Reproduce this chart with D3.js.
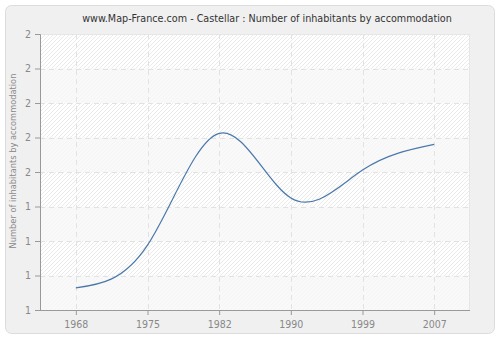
<!DOCTYPE html>
<html><head><meta charset="utf-8">
<script src="https://cdn.jsdelivr.net/npm/d3@7"></script>
<style>body{margin:0;background:#fff}svg{display:block}</style>
</head><body>
<script>
const years = ["1968","1975","1982","1990","1999","2007"];
const values = [1.08, 1.235, 1.64, 1.406, 1.507, 1.60];
const yTicks = [1, 1.125, 1.25, 1.375, 1.5, 1.625, 1.75, 1.875, 2];
const title = "www.Map-France.com - Castellar : Number of inhabitants by accommodation";
const yLabel = "Number of inhabitants by accommodation";

const W = 500, H = 340;
const m = {l:40, r:30, t:34, b:30};
const FONT = "DejaVu Sans Condensed, DejaVu Sans, sans-serif";
const svg = d3.select("body").append("svg").attr("width", W).attr("height", H);
const defs = svg.append("defs");
const pat = defs.append("pattern").attr("id","hatch").attr("patternUnits","userSpaceOnUse")
  .attr("width",4).attr("height",4);
pat.append("rect").attr("width",4).attr("height",4).attr("fill","#ffffff");
pat.append("path").attr("d","M-1,1 l2,-2 M0,4 l4,-4 M3,5 l2,-2").attr("stroke","#e8e8e8").attr("stroke-width",0.9);

svg.append("rect").attr("x",5.5).attr("y",5.5).attr("width",489).attr("height",328)
  .attr("rx",6).attr("fill","#f0f0f0").attr("stroke","#dcdcdc");

const x = d3.scalePoint().domain(years).range([m.l, W - m.r]).padding(0.5);
const y = d3.scaleLinear().domain([1,2]).range([H - m.b, m.t]);

svg.append("rect").attr("x",m.l).attr("y",m.t).attr("width",W-m.r-m.l).attr("height",H-m.b-m.t)
  .attr("fill","url(#hatch)");
for (let i = 0; i < yTicks.length - 1; i++) {
  if (i % 2 === 0) {
    svg.append("rect").attr("x",m.l).attr("width",W-m.r-m.l)
      .attr("y",y(yTicks[i+1])).attr("height",y(yTicks[i]) - y(yTicks[i+1]))
      .attr("fill","#f7f7f7").attr("opacity",0.8);
  }
}

const g = svg.append("g");
g.selectAll(".hg").data(yTicks.slice(1,-1)).join("line")
  .attr("x1",m.l).attr("x2",W-m.r).attr("y1",d=>Math.round(y(d))+0.5).attr("y2",d=>Math.round(y(d))+0.5)
  .attr("stroke","#e2e2e2").attr("stroke-dasharray","5,4");
g.selectAll(".vg").data(years).join("line")
  .attr("y1",m.t).attr("y2",H-m.b).attr("x1",d=>Math.round(x(d))+0.5).attr("x2",d=>Math.round(x(d))+0.5)
  .attr("stroke","#e2e2e2").attr("stroke-dasharray","5,4");
svg.append("line").attr("x1",m.l).attr("x2",W-m.r).attr("y1",m.t+0.5).attr("y2",m.t+0.5).attr("stroke","#e6e6e6");
svg.append("line").attr("x1",W-m.r-0.5).attr("x2",W-m.r-0.5).attr("y1",m.t).attr("y2",H-m.b).attr("stroke","#e6e6e6");

const ya = svg.append("g").attr("transform",`translate(${m.l},0)`)
  .call(d3.axisLeft(y).tickValues(yTicks).tickFormat(d=>Math.round(d)).tickSize(5).tickPadding(4));
const xa = svg.append("g").attr("transform",`translate(0,${H-m.b})`)
  .call(d3.axisBottom(x).tickSize(5).tickPadding(6));
[ya,xa].forEach(a=>{
  a.select(".domain").attr("stroke","#999");
  a.selectAll(".tick line").attr("stroke","#999");
  a.selectAll("text").attr("fill","#888").attr("font-family",FONT).attr("font-size",10.5);
});
xa.select(".domain").attr("d",`M${m.l},0.5H${W-m.r}`);

const line = d3.line().x((d,i)=>x(years[i])).y(d=>y(d)).curve(d3.curveNatural);
svg.append("path").datum(values).attr("d",line).attr("fill","none")
  .attr("stroke","#4a78ab").attr("stroke-width",1.2);

svg.append("text").attr("x",267).attr("y",22).attr("text-anchor","middle")
  .attr("font-family",FONT).attr("font-size",10.7).attr("fill","#333")
  .text(title);
svg.append("text").attr("transform",`translate(16,${(m.t+H-m.b)/2 - 11}) rotate(-90)`)
  .attr("text-anchor","middle").attr("font-family",FONT).attr("font-size",9.2)
  .attr("fill","#888").text(yLabel);
</script>
</body></html>
